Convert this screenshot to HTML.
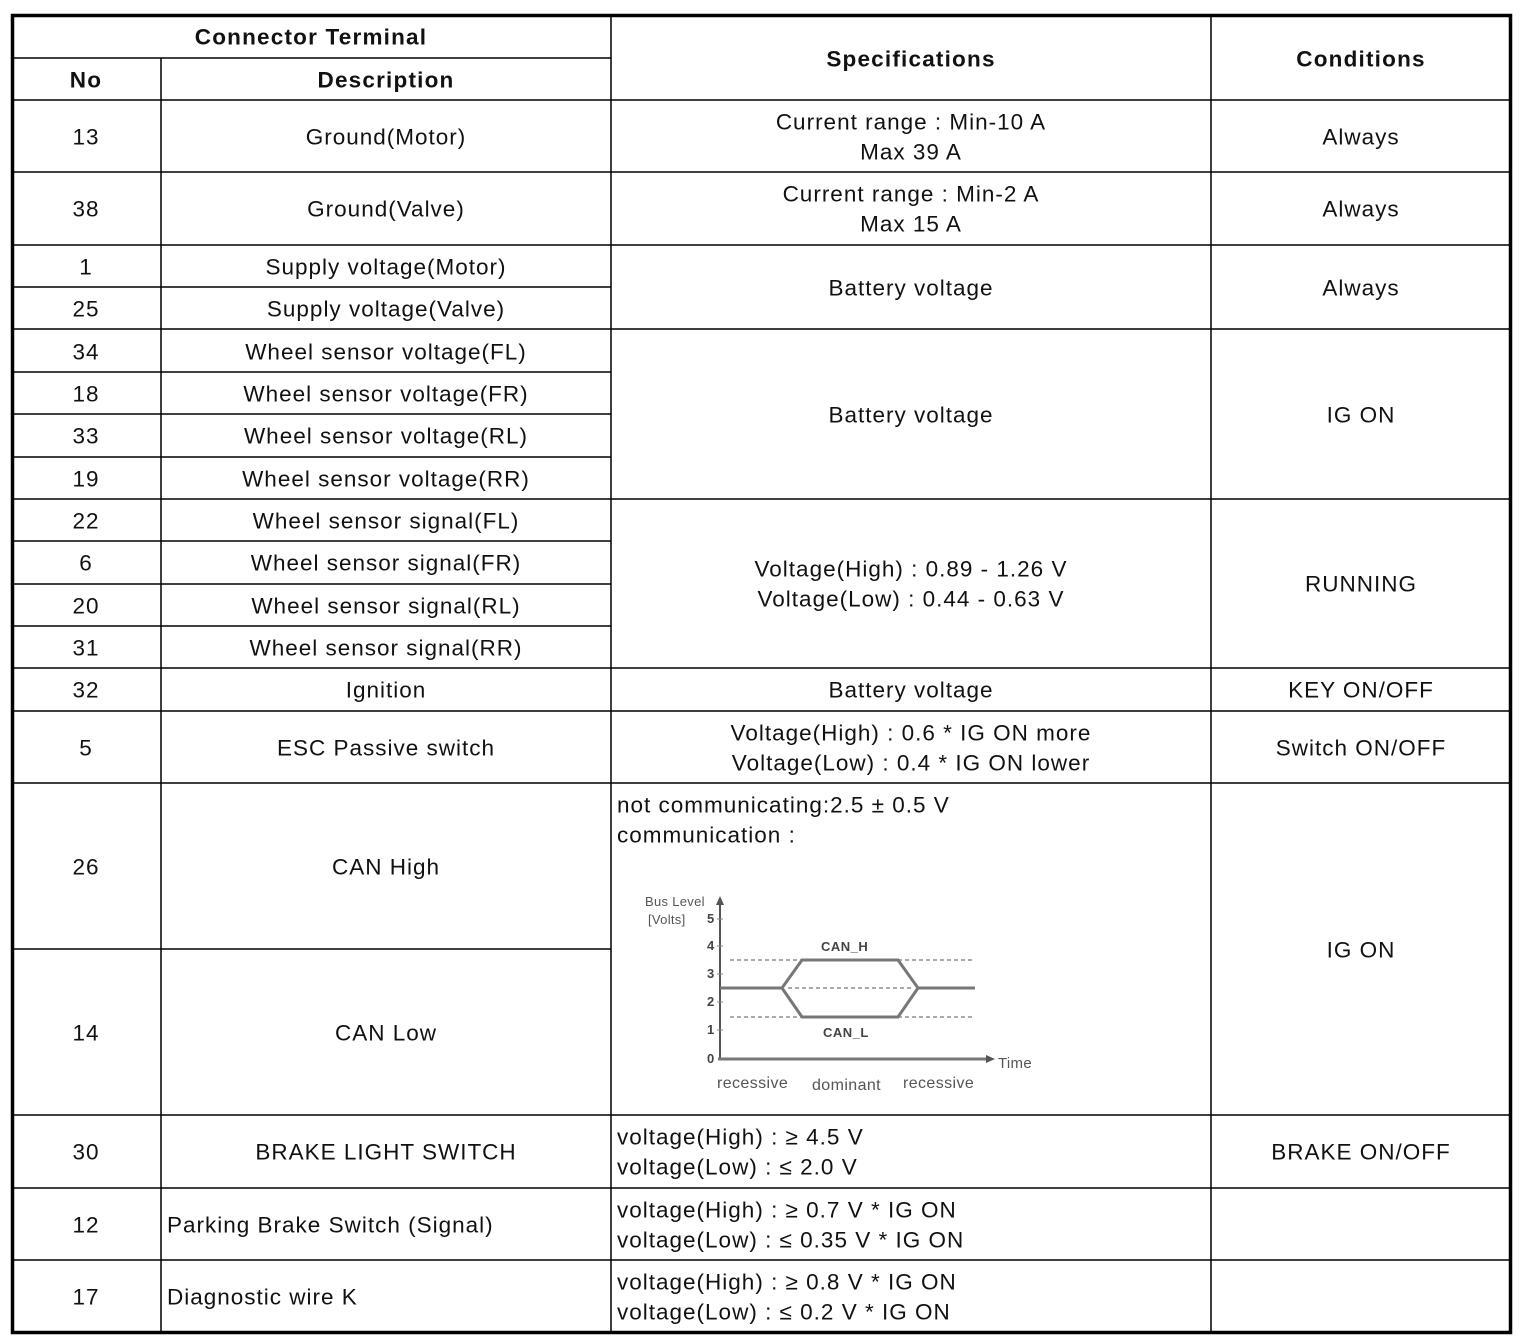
<!DOCTYPE html>
<html><head><meta charset="utf-8"><style>
html,body{margin:0;padding:0;background:#fff}
svg{display:block}
text{font-family:"Liberation Sans",Arial,sans-serif;font-size:22.5px;fill:#111;letter-spacing:1px}
.b{font-weight:bold;letter-spacing:1.2px}
.c{text-anchor:middle}
.s{font-size:13px;fill:#555;letter-spacing:0.3px}
.sb{font-size:13px;fill:#444;font-weight:bold;letter-spacing:0.5px}
.r{font-size:16px;fill:#555;letter-spacing:0.4px}
</style></head><body>
<svg width="1526" height="1342" viewBox="0 0 1526 1342" xmlns="http://www.w3.org/2000/svg">
<rect x="0" y="0" width="1526" height="1342" fill="#fff"/>
<g stroke="#000" stroke-width="1.5" fill="none">
<line x1="161" y1="58" x2="161" y2="1333"/>
<line x1="611" y1="16" x2="611" y2="1333"/>
<line x1="1211" y1="16" x2="1211" y2="1333"/>
<line x1="13" y1="58" x2="611" y2="58"/>
<line x1="13" y1="100" x2="1510" y2="100"/>
<line x1="13" y1="172" x2="1510" y2="172"/>
<line x1="13" y1="245" x2="1510" y2="245"/>
<line x1="13" y1="287" x2="611" y2="287"/>
<line x1="13" y1="329" x2="1510" y2="329"/>
<line x1="13" y1="372" x2="611" y2="372"/>
<line x1="13" y1="414" x2="611" y2="414"/>
<line x1="13" y1="457" x2="611" y2="457"/>
<line x1="13" y1="499" x2="1510" y2="499"/>
<line x1="13" y1="541" x2="611" y2="541"/>
<line x1="13" y1="584" x2="611" y2="584"/>
<line x1="13" y1="626" x2="611" y2="626"/>
<line x1="13" y1="668" x2="1510" y2="668"/>
<line x1="13" y1="711" x2="1510" y2="711"/>
<line x1="13" y1="783" x2="1510" y2="783"/>
<line x1="13" y1="949" x2="611" y2="949"/>
<line x1="13" y1="1115" x2="1510" y2="1115"/>
<line x1="13" y1="1188" x2="1510" y2="1188"/>
<line x1="13" y1="1260" x2="1510" y2="1260"/>
</g>
<rect x="12.5" y="15.5" width="1498" height="1317" fill="none" stroke="#000" stroke-width="3.5"/>

<g dominant-baseline="central">
<text class="b c" x="311" y="37">Connector Terminal</text>
<text class="b c" x="86" y="80">No</text>
<text class="b c" x="386" y="80">Description</text>
<text class="b c" x="911" y="59">Specifications</text>
<text class="b c" x="1361" y="59">Conditions</text>

<text class="c" x="86" y="137">13</text>
<text class="c" x="386" y="137">Ground(Motor)</text>
<text class="c" x="911" y="122">Current range : Min-10 A</text>
<text class="c" x="911" y="152">Max 39 A</text>
<text class="c" x="1361" y="137">Always</text>

<text class="c" x="86" y="209">38</text>
<text class="c" x="386" y="209">Ground(Valve)</text>
<text class="c" x="911" y="194">Current range : Min-2 A</text>
<text class="c" x="911" y="224">Max 15 A</text>
<text class="c" x="1361" y="209">Always</text>

<text class="c" x="86" y="267">1</text>
<text class="c" x="386" y="267">Supply voltage(Motor)</text>
<text class="c" x="86" y="309">25</text>
<text class="c" x="386" y="309">Supply voltage(Valve)</text>
<text class="c" x="911" y="288">Battery voltage</text>
<text class="c" x="1361" y="288">Always</text>

<text class="c" x="86" y="352">34</text>
<text class="c" x="386" y="352">Wheel sensor voltage(FL)</text>
<text class="c" x="86" y="394">18</text>
<text class="c" x="386" y="394">Wheel sensor voltage(FR)</text>
<text class="c" x="86" y="436">33</text>
<text class="c" x="386" y="436">Wheel sensor voltage(RL)</text>
<text class="c" x="86" y="479">19</text>
<text class="c" x="386" y="479">Wheel sensor voltage(RR)</text>
<text class="c" x="911" y="415">Battery voltage</text>
<text class="c" x="1361" y="415">IG ON</text>

<text class="c" x="86" y="521">22</text>
<text class="c" x="386" y="521">Wheel sensor signal(FL)</text>
<text class="c" x="86" y="563">6</text>
<text class="c" x="386" y="563">Wheel sensor signal(FR)</text>
<text class="c" x="86" y="606">20</text>
<text class="c" x="386" y="606">Wheel sensor signal(RL)</text>
<text class="c" x="86" y="648">31</text>
<text class="c" x="386" y="648">Wheel sensor signal(RR)</text>
<text class="c" x="911" y="569">Voltage(High) : 0.89 - 1.26 V</text>
<text class="c" x="911" y="599">Voltage(Low) : 0.44 - 0.63 V</text>
<text class="c" x="1361" y="584">RUNNING</text>

<text class="c" x="86" y="690">32</text>
<text class="c" x="386" y="690">Ignition</text>
<text class="c" x="911" y="690">Battery voltage</text>
<text class="c" x="1361" y="690">KEY ON/OFF</text>

<text class="c" x="86" y="748">5</text>
<text class="c" x="386" y="748">ESC Passive switch</text>
<text class="c" x="911" y="733">Voltage(High) : 0.6 * IG ON more</text>
<text class="c" x="911" y="763">Voltage(Low) : 0.4 * IG ON lower</text>
<text class="c" x="1361" y="748">Switch ON/OFF</text>

<text class="c" x="86" y="867">26</text>
<text class="c" x="386" y="867">CAN High</text>
<text class="c" x="86" y="1033">14</text>
<text class="c" x="386" y="1033">CAN Low</text>
<text x="617" y="805">not communicating:2.5 ± 0.5 V</text>
<text x="617" y="835">communication :</text>
<text class="c" x="1361" y="950">IG ON</text>

<text class="c" x="86" y="1152">30</text>
<text class="c" x="386" y="1152">BRAKE LIGHT SWITCH</text>
<text x="617" y="1137">voltage(High) : ≥ 4.5 V</text>
<text x="617" y="1167">voltage(Low) : ≤ 2.0 V</text>
<text class="c" x="1361" y="1152">BRAKE ON/OFF</text>

<text class="c" x="86" y="1225">12</text>
<text x="167" y="1225">Parking Brake Switch (Signal)</text>
<text x="617" y="1210">voltage(High) : ≥ 0.7 V * IG ON</text>
<text x="617" y="1240">voltage(Low) : ≤ 0.35 V * IG ON</text>

<text class="c" x="86" y="1297">17</text>
<text x="167" y="1297">Diagnostic wire K</text>
<text x="617" y="1282">voltage(High) : ≥ 0.8 V * IG ON</text>
<text x="617" y="1312">voltage(Low) : ≤ 0.2 V * IG ON</text>
</g>

<g>
<line x1="720" y1="1060" x2="720" y2="903" stroke="#555" stroke-width="2"/>
<polygon points="716,905 724,905 720,896" fill="#555"/>
<line x1="718" y1="1059" x2="988" y2="1059" stroke="#777" stroke-width="3"/>
<polygon points="986,1055 986,1063 995,1059" fill="#555"/>
<g stroke="#aaa" stroke-width="2" stroke-dasharray="4,3">
<line x1="730" y1="960" x2="975" y2="960"/>
<line x1="788" y1="988" x2="912" y2="988"/>
<line x1="730" y1="1017" x2="975" y2="1017"/>
</g>
<polyline points="720,988 782,988 802,960 898,960 918,988 975,988" fill="none" stroke="#777" stroke-width="3"/>
<polyline points="782,988 802,1017 898,1017 918,988" fill="none" stroke="#777" stroke-width="3"/>
<g stroke="#888" stroke-width="1">
<line x1="717" y1="919" x2="723" y2="919"/><line x1="717" y1="946" x2="723" y2="946"/>
<line x1="717" y1="974" x2="723" y2="974"/><line x1="717" y1="1002" x2="723" y2="1002"/>
<line x1="717" y1="1030" x2="723" y2="1030"/>
</g>
<text class="s" x="645" y="906">Bus Level</text>
<text class="s" x="648" y="924">[Volts]</text>
<text class="sb" x="707" y="923">5</text>
<text class="sb" x="707" y="950">4</text>
<text class="sb" x="707" y="978">3</text>
<text class="sb" x="707" y="1006">2</text>
<text class="sb" x="707" y="1034">1</text>
<text class="sb" x="707" y="1063">0</text>
<text class="sb" x="821" y="951">CAN_H</text>
<text class="sb" x="823" y="1037">CAN_L</text>
<text class="s" x="998" y="1068" style="font-size:15px">Time</text>
<text class="r" x="717" y="1088">recessive</text>
<text class="r" x="812" y="1090">dominant</text>
<text class="r" x="903" y="1088">recessive</text>
</g>
</svg>
</body></html>
